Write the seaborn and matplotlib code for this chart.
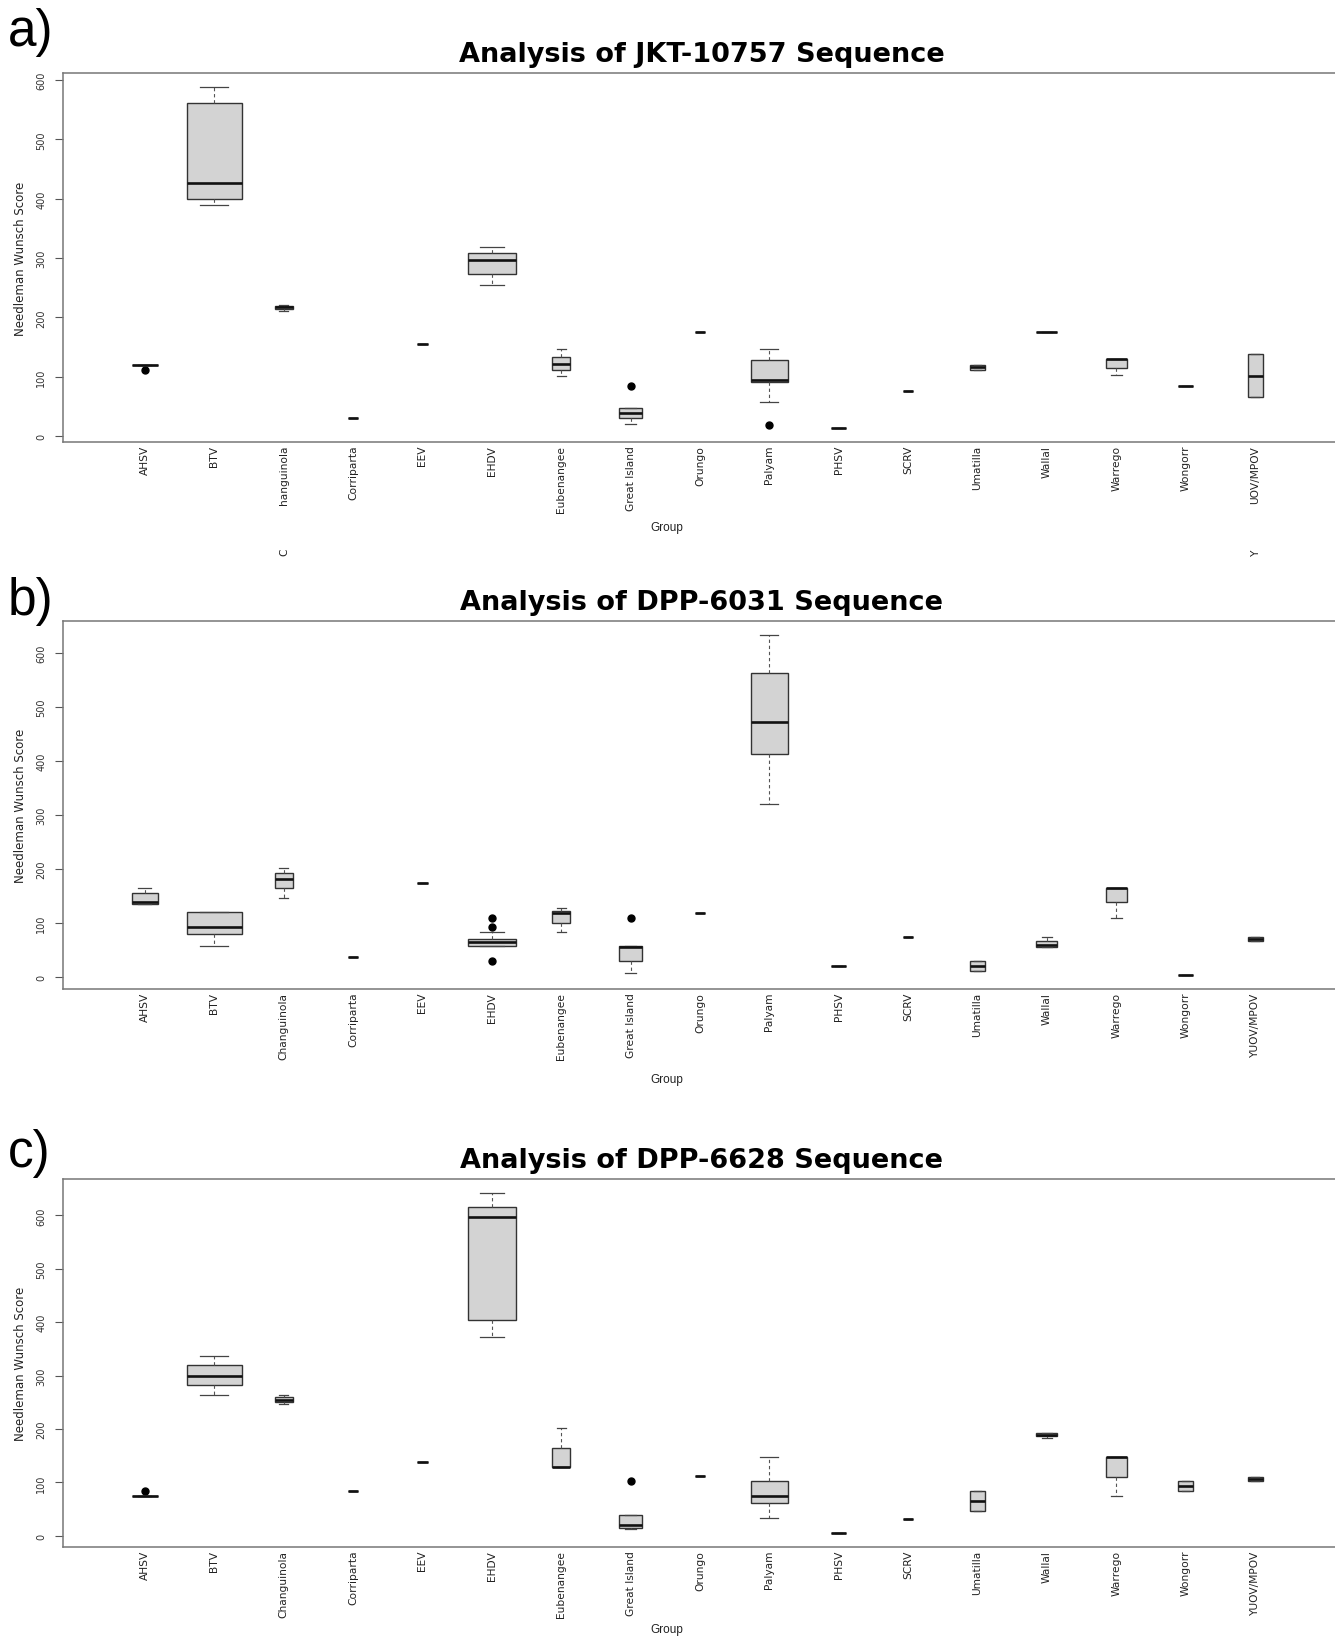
import numpy as np
import pandas as pd
import matplotlib
matplotlib.use("Agg")
import matplotlib.pyplot as plt
import seaborn as sns

# ---------------- data ----------------
groups = ["AHSV", "BTV", "Changuinola", "Corriparta", "EEV", "EHDV", "Eubenangee",
          "Great Island", "Orungo", "Palyam", "PHSV", "SCRV", "Umatilla", "Wallal",
          "Warrego", "Wongorr", "YUOV/MPOV"]

# number of sequences per group (drives the variable box width)
group_counts = [6, 28, 3, 1, 1, 21, 3, 5, 1, 12, 2, 1, 2, 4, 4, 2, 2]

# Needleman-Wunsch scores, one list per group (same order as `groups`)
scores_jkt10757 = [
    [111, 120, 120, 120, 120],
    [390, 399, 426, 561, 588],
    [210, 214, 217, 220, 221],
    [31],
    [156, 156],
    [255, 273, 296, 309, 318],
    [102, 111, 121, 134, 147],
    [21, 26, 31, 35, 39.5, 44, 48, 48, 84],
    [175],
    [19, 58, 91, 93, 95, 112, 129, 140, 147],
    [13.5, 13.5],
    [76],
    [111, 111, 116, 120, 120],
    [175, 175, 175],
    [103, 115, 130, 130, 130],
    [84, 84],
    [66, 66, 102, 138, 138],
]

scores_dpp6031 = [
    [136, 136, 139, 155, 164],
    [57, 79, 93, 120, 120],
    [146, 164, 182, 192, 201],
    [38],
    [174],
    [29, 57, 57, 57, 60, 63, 65, 67, 68, 70, 83, 93, 110],
    [83, 101, 119, 122, 128],
    [7, 15, 29, 40, 55, 56, 57, 57, 110],
    [119],
    [321, 412, 472, 562, 634],
    [20, 20],
    [75],
    [11, 11, 20, 29, 29],
    [56, 56, 60, 66, 75],
    [110, 139, 164, 164, 164],
    [3, 3],
    [67, 67, 70, 74, 74],
]

scores_dpp6628 = [
    [75, 75, 75, 75, 84],
    [264, 282, 300, 319, 336],
    [246, 251, 255, 259, 264],
    [84],
    [138],
    [372, 404, 597, 616, 642],
    [129, 129, 129, 165, 201],
    [12.5, 14, 15, 18, 20.6, 30, 39, 39, 102],
    [111],
    [34, 62, 75, 103, 147],
    [4.4, 4.4],
    [30.6],
    [47, 47, 66, 84, 84],
    [183, 187, 189.6, 192, 192],
    [75, 110, 147, 147, 147],
    [84, 84, 93.6, 103, 103],
    [102, 102, 106.6, 110, 110],
]

titles = ["Analysis of JKT-10757 Sequence",
          "Analysis of DPP-6031 Sequence",
          "Analysis of DPP-6628 Sequence"]
panel_tags = ["a)", "b)", "c)"]
y_ticks = [0, 100, 200, 300, 400, 500, 600]
y_label = "Needleman Wunsch Score"
x_label = "Group"

# ---------------- layout ----------------
W, H = 1335, 1640
fig = plt.figure(figsize=(W / 100, H / 100), dpi=100)
plt.rcParams["font.family"] = ["DejaVu Sans"]

def fx(px):
    return px / W

def fy(py):
    return 1 - py / H

panels = [
    dict(scores=scores_jkt10757, top=74, bottom=443, ylim=(-10, 612),
         tag_base=46, group_y=528),
    dict(scores=scores_dpp6031, top=622, bottom=990, ylim=(-22, 659),
         tag_base=615, group_y=1080),
    dict(scores=scores_dpp6628, top=1180, bottom=1548, ylim=(-21, 668),
         tag_base=1167, group_y=1630),
]

left_px, right_px = 63, 1337
max_n = max(group_counts)

for k, p in enumerate(panels):
    ax = fig.add_axes([fx(left_px), fy(p["bottom"]), fx(right_px - left_px),
                       (p["bottom"] - p["top"]) / H])
    for i, g in enumerate(groups):
        df = pd.DataFrame({"Group": g, "Score": p["scores"][i]})
        w = 0.8 * np.sqrt(group_counts[i] / max_n)
        sns.boxplot(data=df, x="Group", y="Score", order=groups, ax=ax,
                    width=w, color="#D3D3D3", saturation=1, linecolor="#333333",
                    linewidth=1.0, whis=1.5,
                    medianprops=dict(color="#111111", linewidth=1.9),
                    whiskerprops=dict(color="#555555", linewidth=0.8,
                                      linestyle=(0, (3, 2.5))),
                    capprops=dict(color="#444444", linewidth=0.9),
                    flierprops=dict(marker="o", markerfacecolor="black",
                                    markeredgecolor="black", markersize=5))
    ax.set_xlim(-1.18, len(groups) - 1 + 1.18)
    ax.set_ylim(*p["ylim"])
    ax.set_yticks(y_ticks)
    ax.set_yticklabels([str(t) for t in y_ticks], rotation=90, va="center",
                       fontsize=7, color="#333333")
    ax.tick_params(axis="y", length=6, width=0.8, color="#555555", pad=6)
    labels = list(groups)
    if k == 0:
        labels[2] = "hanguinola"
        labels[-1] = "UOV/MPOV"
    ax.set_xticks(range(len(groups)))
    ax.set_xticklabels(labels, rotation=90, fontsize=7.7, color="#222222")
    ax.tick_params(axis="x", length=0, pad=2)
    ax.set_xlabel("")
    ax.set_ylabel("")
    for s in ax.spines.values():
        s.set_color("#777777")
        s.set_linewidth(1.1)

    fig.text(fx(702), fy(p["top"] - 12), titles[k], ha="center", va="baseline",
             fontsize=19.5, fontweight="bold", color="black")
    fig.text(fx(20.5), fy((p["top"] + p["bottom"]) / 2), y_label, rotation=90,
             ha="center", va="center", fontsize=8.5, color="#222222")
    fig.text(fx(667), fy(p["group_y"]), x_label, ha="center", va="center",
             fontsize=8.5, color="#222222", family="Liberation Sans")
    fig.text(fx(8), fy(p["tag_base"]), panel_tags[k], ha="left", va="baseline",
             fontsize=37, color="black", family="Liberation Sans")

# detached fragments of two clipped tick labels in panel a
fig.text(fx(284), fy(552), "C", rotation=90, ha="center", va="center",
         fontsize=7.7, color="#222222")
fig.text(fx(1256), fy(553), "Y", rotation=90, ha="center", va="center",
         fontsize=7.7, color="#222222")

fig.savefig("out.png", dpi=100, facecolor="white")
